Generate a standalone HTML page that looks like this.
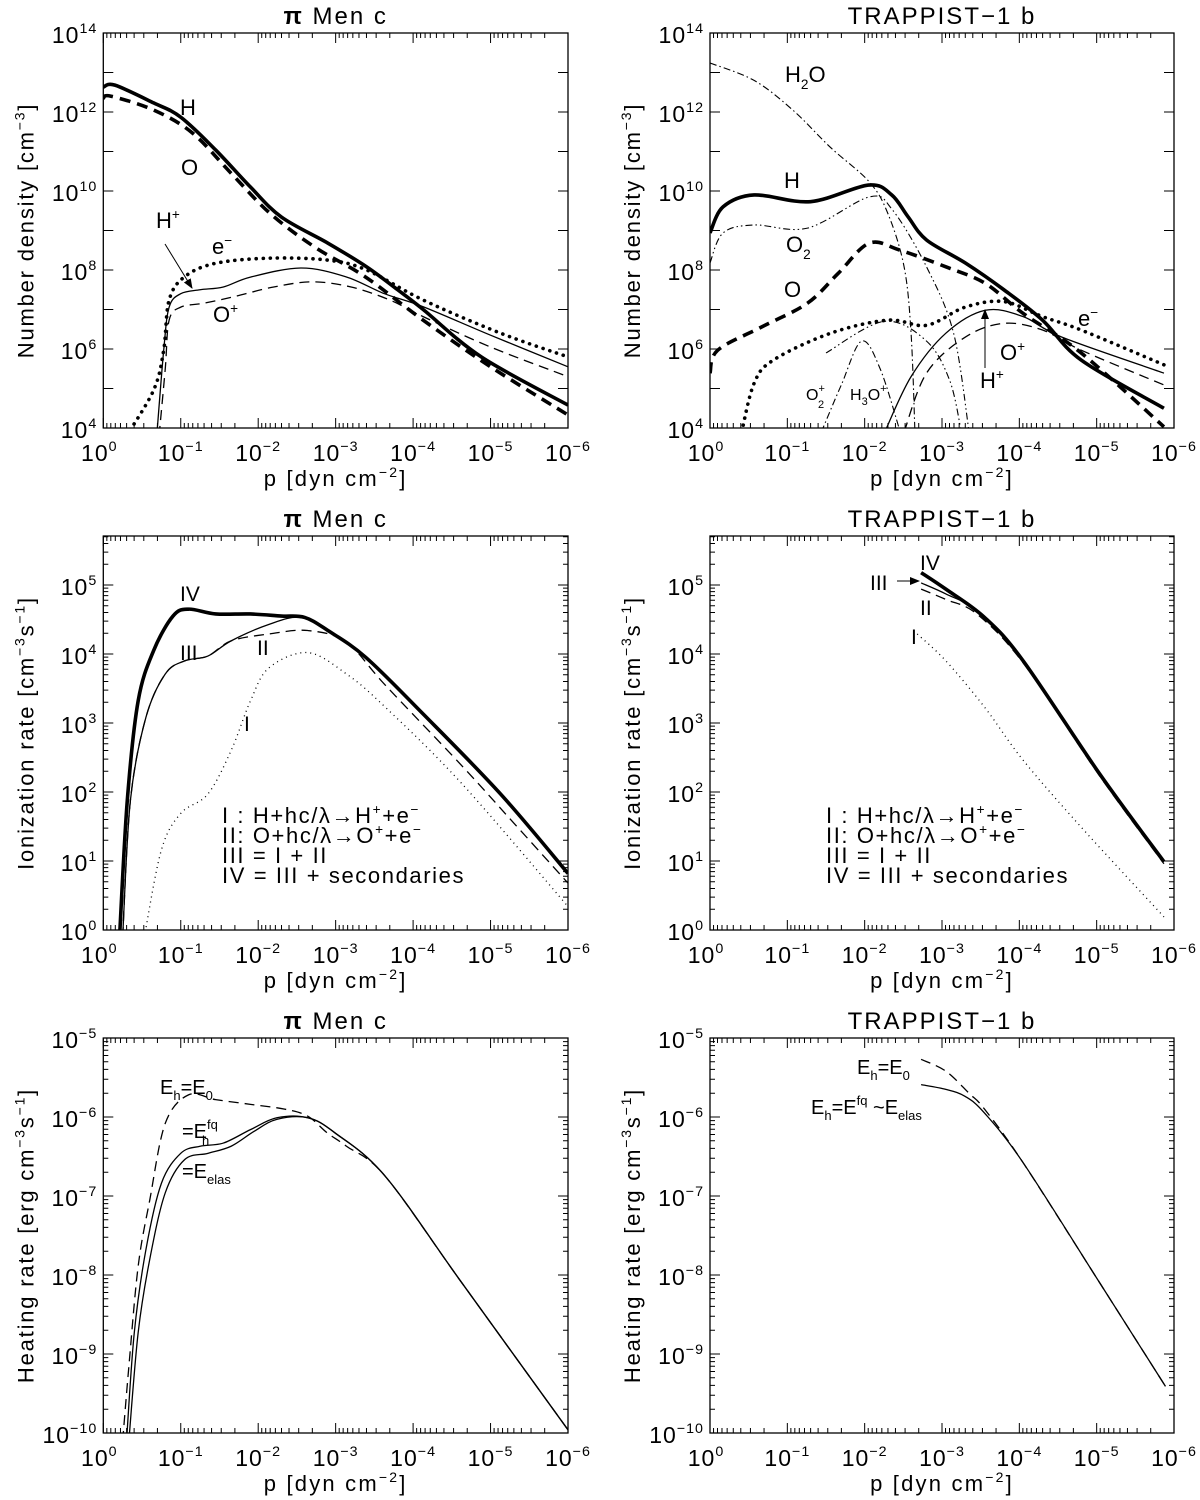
<!DOCTYPE html>
<html><head><meta charset="utf-8"><style>
html,body{margin:0;padding:0;background:#fff;}
svg{display:block;font-family:"Liberation Sans",sans-serif;}
</style></head><body>
<svg id="fig" width="1200" height="1500" viewBox="0 0 1200 1500" xmlns="http://www.w3.org/2000/svg">
<defs>
<marker id="ah" markerWidth="10" markerHeight="8" refX="9" refY="4" orient="auto" markerUnits="userSpaceOnUse"><path d="M0,0 L10,4 L0,8 z" fill="#000"/></marker>
</defs>
<g id="root"></g>
</svg>
<script>
// ---- data (log10 p, log10 value) ----
const p1_H_lp=[0,-0.15,-0.65,-1.0,-1.45,-1.9,-2.3,-2.9,-3.4,-3.8,-4.13,-4.88,-6];
const p1_H_v=[12.63,12.68,12.23,11.87,11.04,10.1,9.34,8.68,8.08,7.5,7.0,5.8,4.58];
const p1_O_lp=[0,-0.1,-0.65,-1.15,-1.65,-2.15,-2.73,-3.38,-4.13,-5.0,-6];
const p1_O_v=[12.35,12.4,12.05,11.47,10.45,9.44,8.58,7.83,6.73,5.55,4.33];
const p1_Hp_lp=[-0.69,-0.78,-0.85,-1.0,-1.25,-1.55,-1.9,-2.55,-3.13,-3.63,-4.13,-5.0,-6];
const p1_Hp_v=[3.8,5.97,7.06,7.4,7.5,7.57,7.82,8.05,7.83,7.4,7.07,6.35,5.55];
const p1_Op_lp=[-0.72,-0.8,-0.85,-1.0,-1.3,-1.7,-2.2,-2.7,-3.2,-3.7,-4.13,-5.0,-6];
const p1_Op_v=[3.8,5.5,6.73,7.06,7.16,7.33,7.57,7.7,7.57,7.24,6.82,6.05,5.3];
const p1_e_lp=[-0.3,-0.65,-0.78,-0.85,-1.05,-1.45,-2.15,-2.9,-3.4,-4.13,-5.13,-6];
const p1_e_v=[3.8,4.96,5.97,7.24,7.83,8.17,8.3,8.25,8.0,7.24,6.4,5.8];

const p2_H_lp=[0,-0.17,-0.57,-1.3,-2.05,-2.35,-2.56,-2.8,-3.3,-3.8,-4.3,-4.8,-5.87];
const p2_H_v=[8.94,9.6,9.9,9.73,10.15,9.9,9.35,8.76,8.18,7.5,6.73,5.72,4.5];
const p2_O_lp=[0,-0.1,-0.67,-1.26,-1.66,-2.06,-2.46,-3.05,-3.56,-4.05,-4.8,-5.87];
const p2_O_v=[5.39,5.97,6.56,7.16,7.92,8.68,8.5,8.08,7.66,6.9,5.9,4.03];
const p2_H2O_lp=[0,-0.57,-1.07,-1.56,-2.06,-2.3,-2.51,-2.6,-2.65];
const p2_H2O_v=[13.24,12.8,12.05,11.1,10.23,9.43,8.08,6.4,3.9];
const p2_O2_lp=[0,-0.17,-0.57,-1.26,-2.06,-2.36,-2.8,-3.15,-3.35];
const p2_O2_v=[8.18,8.94,9.14,9.06,9.85,9.52,8.08,6.4,3.9];
const p2_e_lp=[-0.41,-0.57,-0.82,-1.56,-2.3,-2.8,-3.3,-3.8,-4.3,-4.8,-5.87];
const p2_e_v=[3.9,5.13,5.72,6.4,6.73,6.6,7.06,7.2,6.82,6.48,5.6];
const p2_Hp_lp=[-2.26,-2.6,-3.05,-3.56,-4.05,-4.55,-5.87];
const p2_Hp_v=[3.9,5.3,6.4,6.98,6.82,6.3,5.39];
const p2_Op_lp=[-2.51,-2.8,-3.3,-3.8,-4.3,-4.8,-5.87];
const p2_Op_v=[3.9,5.39,6.3,6.65,6.48,5.97,5.09];
const p2_O2p_lp=[-1.44,-1.7,-1.96,-2.2,-2.46];
const p2_O2p_v=[3.9,5.1,6.2,5.5,3.9];
const p2_H3Op_lp=[-1.5,-2.25,-2.8,-3.1,-3.25];
const p2_H3Op_v=[5.9,6.7,6.2,5.2,3.9];

const p3_IV_lp=[-0.21,-0.31,-0.45,-0.65,-0.9,-1.1,-1.45,-1.9,-2.3,-2.6,-2.9,-3.39,-4.13,-5.13,-6];
const p3_IV_v=[-0.1,1.88,3.32,4.05,4.55,4.65,4.58,4.58,4.55,4.53,4.34,3.95,3.13,1.97,0.82];
const p3_III_lp=[-0.25,-0.35,-0.55,-0.8,-1.05,-1.35,-1.65,-2.14,-2.54,-2.9,-3.39,-4.13,-5.13,-6];
const p3_III_v=[-0.1,1.88,3.08,3.71,3.9,3.97,4.19,4.43,4.53,4.34,3.95,3.13,1.97,0.82];
const p3_II_lp=[-0.25,-0.35,-0.55,-0.8,-1.05,-1.35,-1.65,-2.14,-2.64,-3.14,-3.64,-4.63,-5.3,-6];
const p3_II_v=[-0.1,1.88,3.08,3.71,3.9,3.97,4.19,4.29,4.34,4.17,3.55,2.38,1.55,0.68];
const p3_I_lp=[-0.53,-0.75,-1.0,-1.35,-1.65,-1.9,-2.14,-2.64,-3.14,-3.64,-4.63,-6];
const p3_I_v=[-0.1,1.16,1.69,1.97,2.6,3.32,3.8,4.02,3.71,3.23,2.12,0.34];

const p4_IV_lp=[-2.73,-3.05,-3.55,-4.05,-5.04,-5.87];
const p4_IV_v=[5.18,4.94,4.53,3.9,2.26,0.99];
const p4_III_lp=[-2.73,-3.05,-3.45,-4.05,-5.04,-5.87];
const p4_III_v=[5.03,4.87,4.62,3.9,2.26,0.99];
const p4_II_lp=[-2.73,-3.05,-3.45,-4.05,-5.04,-5.87];
const p4_II_v=[4.94,4.79,4.58,3.87,2.23,0.96];
const p4_I_lp=[-2.68,-3.05,-3.55,-4.05,-4.8,-5.87];
const p4_I_v=[4.29,3.9,3.23,2.46,1.49,0.19];

const p5_E0_lp=[-0.25,-0.33,-0.45,-0.6,-0.8,-1.1,-1.45,-1.9,-2.34,-2.64,-2.89,-3.14,-3.64,-4.63,-6];
const p5_E0_v=[-10.1,-9.16,-7.89,-7.05,-6.08,-5.72,-5.78,-5.84,-5.9,-5.99,-6.2,-6.37,-6.75,-8.1,-9.96];
const p5_Efq_lp=[-0.3,-0.4,-0.55,-0.75,-1.0,-1.25,-1.55,-1.9,-2.24,-2.64,-2.99,-3.64,-4.63,-6];
const p5_Efq_v=[-10.1,-8.73,-7.68,-6.84,-6.46,-6.37,-6.33,-6.16,-6.01,-6.01,-6.2,-6.75,-8.1,-9.96];
const p5_Eel_lp=[-0.33,-0.45,-0.6,-0.8,-1.05,-1.35,-1.65,-1.95,-2.24,-2.64,-2.99,-3.64,-4.63,-6];
const p5_Eel_v=[-10.1,-8.73,-7.8,-6.96,-6.54,-6.46,-6.37,-6.18,-6.03,-6.01,-6.2,-6.75,-8.1,-9.96];

const p6_E0_lp=[-2.73,-3.05,-3.35,-3.55,-4.05,-5.04,-5.89];
const p6_E0_v=[-5.27,-5.42,-5.7,-5.9,-6.58,-8.1,-9.41];
const p6_Efq_lp=[-2.73,-3.05,-3.3,-3.55,-4.05,-5.04,-5.89];
const p6_Efq_v=[-5.59,-5.65,-5.74,-5.95,-6.58,-8.1,-9.41];

const xTickExp=[0,-1,-2,-3,-4,-5,-6];
const row1YLabels=[4,6,8,10,12,14];
const row2YLabels=[0,1,2,3,4,5];
const row3YLabels=[-10,-9,-8,-7,-6,-5];

// ---- drawing ----
const NS="http://www.w3.org/2000/svg";
const root=document.getElementById('root');
function el(tag,attrs,parent){const e=document.createElementNS(NS,tag);for(const k in attrs)e.setAttribute(k,attrs[k]);(parent||root).appendChild(e);return e;}

const panels=[
 {x0:103.3,x1:568,y0:33,y1:428,ymin:4,ymax:14,minor:false,labels:row1YLabels,title:"π Men c",bold:true,ytitle:"Number density [cm",ysup:"−3",ytail:"]"},
 {x0:710,x1:1174,y0:33,y1:428,ymin:4,ymax:14,minor:false,labels:row1YLabels,title:"TRAPPIST−1 b",ytitle:"Number density [cm",ysup:"−3",ytail:"]"},
 {x0:103.3,x1:568,y0:536,y1:930,ymin:0,ymax:5.71,minor:true,labels:row2YLabels,title:"π Men c",bold:true,ytitle:"Ionization rate [cm",ysup:"−3",ymid:"s",ysup2:"−1",ytail:"]"},
 {x0:710,x1:1174,y0:536,y1:930,ymin:0,ymax:5.71,minor:true,labels:row2YLabels,title:"TRAPPIST−1 b",ytitle:"Ionization rate [cm",ysup:"−3",ymid:"s",ysup2:"−1",ytail:"]"},
 {x0:103.3,x1:568,y0:1038,y1:1433,ymin:-10,ymax:-5,minor:true,labels:row3YLabels,title:"π Men c",bold:true,ytitle:"Heating rate [erg cm",ysup:"−3",ymid:"s",ysup2:"−1",ytail:"]"},
 {x0:710,x1:1174,y0:1038,y1:1433,ymin:-10,ymax:-5,minor:true,labels:row3YLabels,title:"TRAPPIST−1 b",ytitle:"Heating rate [erg cm",ysup:"−3",ymid:"s",ysup2:"−1",ytail:"]"}
];
function X(P,lp){return P.x0+(-lp)/6*(P.x1-P.x0);}
function Y(P,v){return P.y1-(v-P.ymin)/(P.ymax-P.ymin)*(P.y1-P.y0);}

function pow10(g,x,y,exp,anchor,size,name){
  const t=el('text',{x:x,y:y,'font-size':size,'text-anchor':anchor,fill:'#000','letter-spacing':1},g);
  
  
  t.appendChild(document.createTextNode('10'));
  const s=el('tspan',{dy:-10,'font-size':size*0.62},t);
  s.textContent=String(exp).replace('-','−');
  return t;
}

panels.forEach((P,i)=>{
  const g=el('g',{});
  
  
  P.g=g;
  const cp=el('clipPath',{id:'clip'+i},g);
  el('rect',{x:P.x0,y:P.y0,width:P.x1-P.x0,height:P.y1-P.y0},cp);
  const frame=el('rect',{x:P.x0,y:P.y0,width:P.x1-P.x0,height:P.y1-P.y0,fill:'none',stroke:'#000','stroke-width':1.3},g);
  
  
  let d='';
  for(let dec=0;dec<=6;dec++){
    const x=X(P,-dec);
    d+=`M${x},${P.y1}v-10M${x},${P.y0}v10`;
    if(dec<6){for(let m=2;m<=9;m++){const xm=X(P,-(dec+1-Math.log10(m)));d+=`M${xm},${P.y1}v-5M${xm},${P.y0}v5`;}}
  }
  for(let v=Math.ceil(P.ymin);v<=Math.floor(P.ymax);v++){
    const y=Y(P,v);d+=`M${P.x0},${y}h10M${P.x1},${y}h-10`;
    if(P.minor){for(let m=2;m<=9;m++){const vm=v+Math.log10(m);if(vm<=P.ymax){const ym=Y(P,vm);d+=`M${P.x0},${ym}h5M${P.x1},${ym}h-5`;}}}
  }
  const tk=el('path',{d:d,stroke:'#000','stroke-width':1,fill:'none'},g);
  
  
  xTickExp.forEach(e=>{pow10(g,X(P,e)+(e===0?-4:0),P.y1+33,e,'middle',23,'x-tick-label');});
  P.labels.forEach(e=>{pow10(g,P.x0-6,Y(P,e)+10,e,'end',23,'y-tick-label');});
  const xt=el('text',{x:(P.x0+P.x1)/2,y:P.y1+58,'font-size':22,'text-anchor':'middle','letter-spacing':2.2},g);
  
  
  xt.appendChild(document.createTextNode('p [dyn cm'));
  let s=el('tspan',{dy:-9,'font-size':14},xt);s.textContent='−2';
  s=el('tspan',{dy:9},xt);s.textContent=']';
  const cx=P.x0-70, cy=(P.y0+P.y1)/2;
  const yt=el('text',{x:cx,y:cy,'font-size':22,'text-anchor':'middle','letter-spacing':1.8,transform:`rotate(-90 ${cx} ${cy})`},g);
  
  
  yt.appendChild(document.createTextNode(P.ytitle));
  s=el('tspan',{dy:-9,'font-size':14},yt);s.textContent=P.ysup;
  if(P.ymid){s=el('tspan',{dy:9},yt);s.textContent=P.ymid;s=el('tspan',{dy:-9,'font-size':14},yt);s.textContent=P.ysup2;}
  s=el('tspan',{dy:9},yt);s.textContent=P.ytail;
  const tt=el('text',{x:(P.x0+P.x1)/2,y:P.y0-9,'font-size':24,'text-anchor':'middle','letter-spacing':2},g);
  
  
  if(P.bold){s=el('tspan',{'font-weight':'bold'},tt);s.textContent='π';tt.appendChild(document.createTextNode('  Men  c'));}
  else tt.textContent=P.title;
  P.lines=el('g',{'clip-path':`url(#clip${i})`},g);
});

function smooth(pts){
  let d=`M${pts[0][0]},${pts[0][1]}`;
  for(let i=0;i<pts.length-1;i++){
    const p0=pts[Math.max(i-1,0)],p1=pts[i],p2=pts[i+1],p3=pts[Math.min(i+2,pts.length-1)];
    const c1=[p1[0]+(p2[0]-p0[0])/6,p1[1]+(p2[1]-p0[1])/6];
    const c2=[p2[0]-(p3[0]-p1[0])/6,p2[1]-(p3[1]-p1[1])/6];
    d+=`C${c1[0]},${c1[1]} ${c2[0]},${c2[1]} ${p2[0]},${p2[1]}`;
  }
  return d;
}
const ST={
 thick:{w:3.6,dash:''},thickdash:{w:3.6,dash:'11,7'},thickdot:{w:3.6,dash:'0.1,7',cap:'round'},
 thin:{w:1.3,dash:''},dash:{w:1.3,dash:'10,6'},dot:{w:1.3,dash:'1,4'},
 dashdot:{w:1.1,dash:'7,3,1.5,3'},dashdotdot:{w:1.1,dash:'7,3,1.5,3,1.5,3'}
};
function series(pi,lp,v,style,name){
  const P=panels[pi];
  const pts=lp.map((l,k)=>[X(P,l),Y(P,v[k])]);
  const s=ST[style];
  const a={d:smooth(pts),fill:'none',stroke:'#000','stroke-width':s.w,'stroke-linejoin':'round'};
  if(s.dash)a['stroke-dasharray']=s.dash;
  if(s.cap)a['stroke-linecap']=s.cap;
  const path=el('path',a,P.lines);
  
  
}
series(0,p1_H_lp,p1_H_v,'thick','line-H');
series(0,p1_O_lp,p1_O_v,'thickdash','line-O');
series(0,p1_Hp_lp,p1_Hp_v,'thin','line-H-plus');
series(0,p1_Op_lp,p1_Op_v,'dash','line-O-plus');
series(0,p1_e_lp,p1_e_v,'thickdot','line-electron');

series(1,p2_H_lp,p2_H_v,'thick','line-H');
series(1,p2_O_lp,p2_O_v,'thickdash','line-O');
series(1,p2_H2O_lp,p2_H2O_v,'dashdot','line-H2O');
series(1,p2_O2_lp,p2_O2_v,'dashdotdot','line-O2');
series(1,p2_e_lp,p2_e_v,'thickdot','line-electron');
series(1,p2_Hp_lp,p2_Hp_v,'thin','line-H-plus');
series(1,p2_Op_lp,p2_Op_v,'dash','line-O-plus');
series(1,p2_O2p_lp,p2_O2p_v,'dashdot','line-O2-plus');
series(1,p2_H3Op_lp,p2_H3Op_v,'dashdotdot','line-H3O-plus');

series(2,p3_IV_lp,p3_IV_v,'thick','line-IV');
series(2,p3_II_lp,p3_II_v,'dash','line-II');
series(2,p3_III_lp,p3_III_v,'thin','line-III');
series(2,p3_I_lp,p3_I_v,'dot','line-I');

series(3,p4_IV_lp,p4_IV_v,'thick','line-IV');
series(3,p4_II_lp,p4_II_v,'dash','line-II');
series(3,p4_III_lp,p4_III_v,'thin','line-III');
series(3,p4_I_lp,p4_I_v,'dot','line-I');

series(4,p5_E0_lp,p5_E0_v,'dash','line-Eh-E0');
series(4,p5_Efq_lp,p5_Efq_v,'thin','line-Eh-fq');
series(4,p5_Eel_lp,p5_Eel_v,'thin','line-Eh-elas');

series(5,p6_E0_lp,p6_E0_v,'dash','line-Eh-E0');
series(5,p6_Efq_lp,p6_Efq_v,'thin','line-Eh-fq');

// ---- annotations ----
function lab(pi,x,y,parts,size,name,ls){
  const t=el('text',{x:x,y:y,'font-size':size,fill:'#000','letter-spacing':ls||0},panels[pi].g);
  
  
  parts.forEach(p=>{
    if(typeof p==='string'){t.appendChild(document.createTextNode(p));}
    else{const a={dy:p.dy,'font-size':p.fs||size*0.62};if(p.dx)a.dx=p.dx;const s=el('tspan',a,t);s.textContent=p.t;}
  });
}
function arrow(pi,x1,y1,x2,y2,name){
  const a=el('line',{x1:x1,y1:y1,x2:x2,y2:y2,stroke:'#000','stroke-width':1,'marker-end':'url(#ah)'},panels[pi].g);
  
  
}
lab(0,180,115,['H'],22,'label-H');
lab(0,181,175,['O'],22,'label-O');
lab(0,156,228,['H',{t:'+',dy:-9}],22,'label-H-plus');
lab(0,212,254,['e',{t:'−',dy:-9}],22,'label-electron');
lab(0,213,322,['O',{t:'+',dy:-9}],22,'label-O-plus');
arrow(0,165,244,192,288,'arrow-H-plus');

lab(1,785,82,['H',{t:'2',dy:7},{t:'O',dy:-7,fs:22}],22,'label-H2O');
lab(1,784,188,['H'],22,'label-H');
lab(1,786,252,['O',{t:'2',dy:7}],22,'label-O2');
lab(1,784,297,['O'],22,'label-O');
lab(1,806,400,['O',{t:'+',dy:-8,fs:11}],16,'label-O2-plus');
lab(1,818,408,['2'],11,'label-O2-plus-sub');
lab(1,850,400,['H',{t:'3',dy:5,fs:11},{t:'O',dy:-5,fs:16},{t:'+',dy:-8,fs:11}],16,'label-H3O-plus');
lab(1,1078,326,['e',{t:'−',dy:-9}],22,'label-electron');
lab(1,1000,360,['O',{t:'+',dy:-9}],22,'label-O-plus');
lab(1,980,388,['H',{t:'+',dy:-9}],22,'label-H-plus');
arrow(1,985,368,985,310,'arrow-H-plus');

lab(2,180,601,['IV'],21,'label-IV');
lab(2,180,660,['III'],21,'label-III');
lab(2,257,655,['II'],21,'label-II');
lab(2,244,731,['I'],21,'label-I');
lab(3,920,570,['IV'],21,'label-IV');
lab(3,870,590,['III'],21,'label-III');
lab(3,920,615,['II'],21,'label-II');
lab(3,911,644,['I'],21,'label-I');
arrow(3,897,581,919,581,'arrow-III');

function legend(pi,x){
  const y0=823;
  lab(pi,x,y0,['I :  H+hc/λ→H',{t:'+',dy:-9},{t:'+e',dy:9,fs:22},{t:'−',dy:-9}],22,'legend-entry-I',1.6);
  lab(pi,x,y0+20,['II:  O+hc/λ→O',{t:'+',dy:-9},{t:'+e',dy:9,fs:22},{t:'−',dy:-9}],22,'legend-entry-II',1.6);
  lab(pi,x,y0+40,['III  =  I  +  II'],22,'legend-entry-III',1.6);
  lab(pi,x,y0+60,['IV =  III  +  secondaries'],22,'legend-entry-IV',1.6);
}
legend(2,222);
legend(3,826);

lab(4,160,1094,['E',{t:'h',dy:6,fs:13},{t:'=E',dy:-6,fs:20},{t:'0',dy:6,fs:13}],20,'label-Eh-E0');
lab(4,182,1138,['=E',{t:'fq',dy:-9,fs:13}],20,'label-Eh-fq');
lab(4,202,1145,['h'],13,'label-Eh-fq-sub');
lab(4,182,1178,['=E',{t:'elas',dy:6,fs:13}],20,'label-Eh-elas');
lab(5,857,1074,['E',{t:'h',dy:6,fs:13},{t:'=E',dy:-6,fs:20},{t:'0',dy:6,fs:13}],20,'label-Eh-E0');
lab(5,811,1114,['E',{t:'h',dy:6,fs:13},{t:'=E',dy:-6,fs:20},{t:'fq',dy:-9,fs:13},{t:' ~E',dy:9,fs:20},{t:'elas',dy:6,fs:13}],20,'label-Eh-fq-elas');
</script>
</body></html>
